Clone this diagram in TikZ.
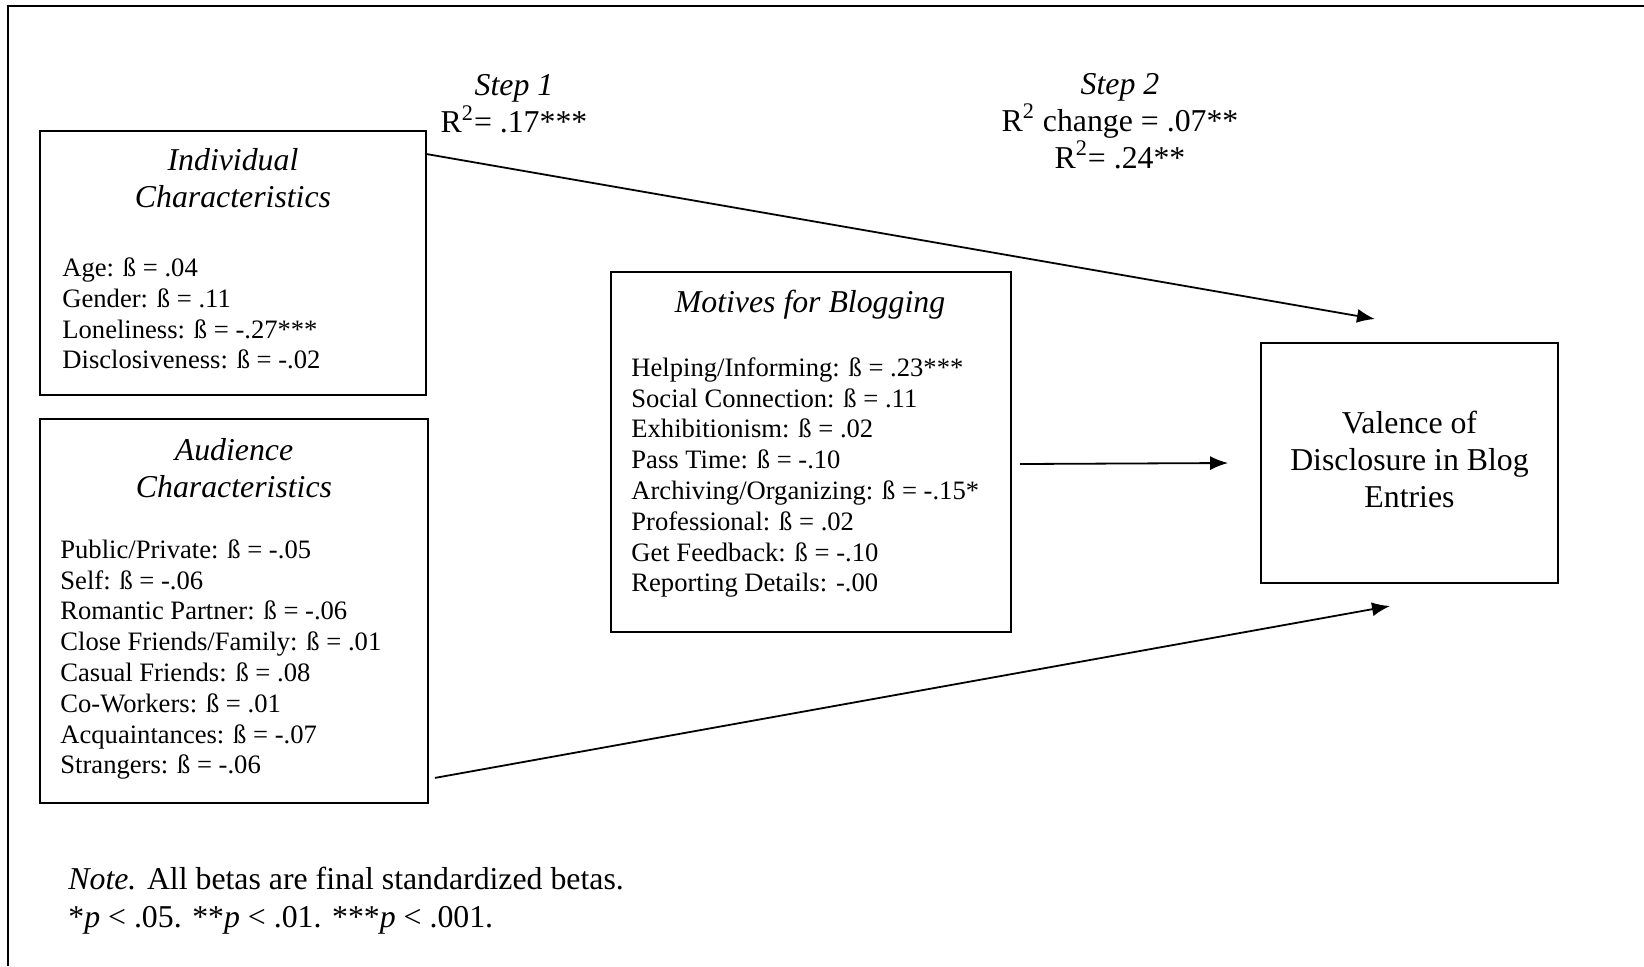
\documentclass[tikz,border=0pt]{standalone}
\usepackage{fontspec}
\setmainfont{Liberation Serif}
\usetikzlibrary{arrows.meta}
\begin{document}
\begin{tikzpicture}[x=0.5pt,y=-0.5pt,
  box/.style={draw, line width=0.9pt, inner sep=0pt},
  body/.style={font=\fontsize{13.3}{15.4}\selectfont, align=left, inner sep=0pt, anchor=west},
  big/.style={font=\fontsize{15.9}{18.4}\selectfont, align=center, inner sep=0pt},
  arr/.style={line width=0.9pt, -{Latex[length=9pt,width=7pt]}}]
\useasboundingbox (0,0) rectangle (1644,966);
% frame
\coordinate (ftr) at (1644,6);
\coordinate (ftl) at (8,6);
\coordinate (fbl) at (8,966);
\draw[line width=0.9pt] (ftr) -- (ftl) -- (fbl);
% boxes
\node[box, minimum width=193pt, minimum height=132pt] (ind) at (233,263) {};
\node[box, minimum width=194pt, minimum height=192pt] (aud) at (234,611) {};
\node[box, minimum width=200pt, minimum height=180pt] (mot) at (811,452) {};
\node[box, minimum width=148.5pt, minimum height=120pt] (val) at (1409.5,463) {};
\node[big] (valt) at (1409.5,459.5) {Valence of\\Disclosure in Blog\\Entries};
% titles
\node[big] (indt) at (233,178) {\itshape Individual\\\itshape Characteristics};
\node[big] (audt) at (234,468) {\itshape Audience\\\itshape Characteristics};
\node[big] (mott) at (810,305) {\itshape Motives for Blogging};
% items
\node[body] (indi) at (62,313.5) {Age: ß = .04\\Gender: ß = .11\\Loneliness: ß = -.27***\\Disclosiveness: ß = -.02};
\node[body] (audi) at (60,659.5) {Public/Private: ß = -.05\\Self: ß = -.06\\Romantic Partner: ß = -.06\\Close Friends/Family: ß = .01\\Casual Friends: ß = .08\\Co-Workers: ß = .01\\Acquaintances: ß = -.07\\Strangers: ß = -.06};
\node[body] (moti) at (631,477.5) {Helping/Informing: ß = .23***\\Social Connection: ß = .11\\Exhibitionism: ß = .02\\Pass Time: ß = -.10\\Archiving/Organizing: ß = -.15*\\Professional: ß = .02\\Get Feedback: ß = -.10\\Reporting Details: -.00};
% step labels
\node[big] (s1) at (514,104) {\itshape Step 1\\R\textsuperscript{2}= .17***};
\node[big] (s2) at (1120,121) {\itshape Step 2\\R\textsuperscript{2} change = .07**\\R\textsuperscript{2}= .24**};
% note
\node[big, align=left, anchor=west, font=\fontsize{15.9}{19}\selectfont] (note) at (68,901) {\textit{Note.} All betas are final standardized betas.\\*\textit{p} < .05. **\textit{p} < .01. ***\textit{p} < .001.};
% arrows
\coordinate (a1e) at (1375,319);
\coordinate (a3e) at (1390,606);
\draw[arr] ([yshift=-12pt]ind.north east) -- (a1e);
\draw[arr] ([xshift=4pt,yshift=-6pt]mot.east) -- ([xshift=-16pt]val.west);
\draw[arr] ([xshift=3pt,yshift=13pt]aud.south east) -- (a3e);
\end{tikzpicture}
\end{document}
